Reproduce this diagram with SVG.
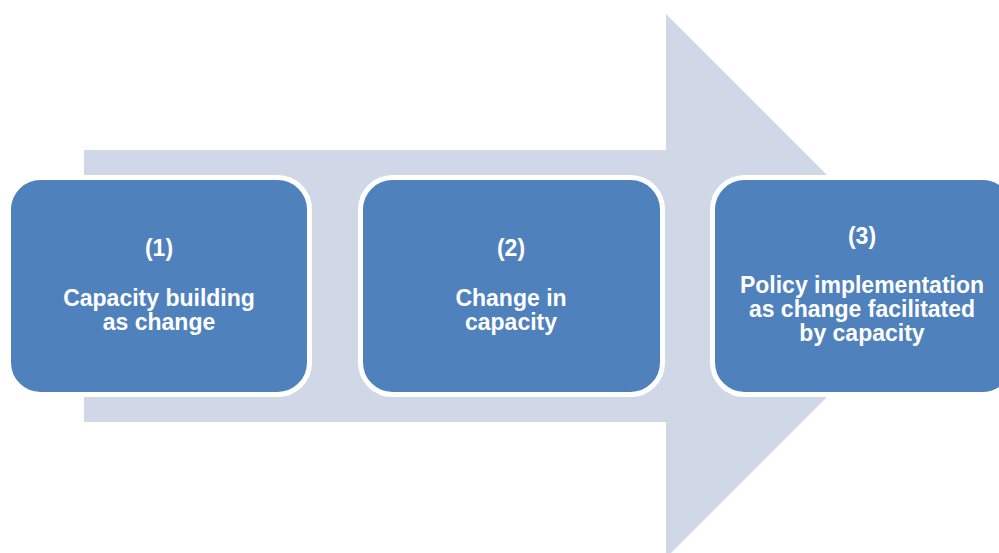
<svg xmlns="http://www.w3.org/2000/svg" width="999" height="553" viewBox="0 0 999 553">
<style>
.box{fill:#4F81BD;stroke:#FFFFFF;stroke-width:5}
.t{font-family:"Liberation Sans",Arial,sans-serif;font-weight:bold;font-size:23px;fill:#FFFFFF;text-anchor:middle}
</style>
<rect width="999" height="553" fill="#FFFFFF"/>
<g id="connectors">
<polygon points="84,150 666,150 666,14 938,286 666,558 666,422 84,422" fill="#D0D8E8"/>
</g>
<g id="node1">
<rect class="box" x="8.5" y="177.5" width="301" height="217" rx="32" ry="32"/>
<text class="t" x="159" y="256">(1)</text>
<text class="t" x="159" y="306">Capacity building</text>
<text class="t" x="159" y="330">as change</text>
</g>
<g id="node2">
<rect class="box" x="360.5" y="177.5" width="302" height="217" rx="32" ry="32"/>
<text class="t" x="511" y="256">(2)</text>
<text class="t" x="511" y="306">Change in</text>
<text class="t" x="511" y="330">capacity</text>
</g>
<g id="node3">
<rect class="box" x="712.5" y="177.5" width="302" height="217" rx="32" ry="32"/>
<text class="t" x="862" y="244">(3)</text>
<text class="t" x="862" y="293">Policy implementation</text>
<text class="t" x="862" y="317">as change facilitated</text>
<text class="t" x="862" y="341">by capacity</text>
</g>
</svg>
